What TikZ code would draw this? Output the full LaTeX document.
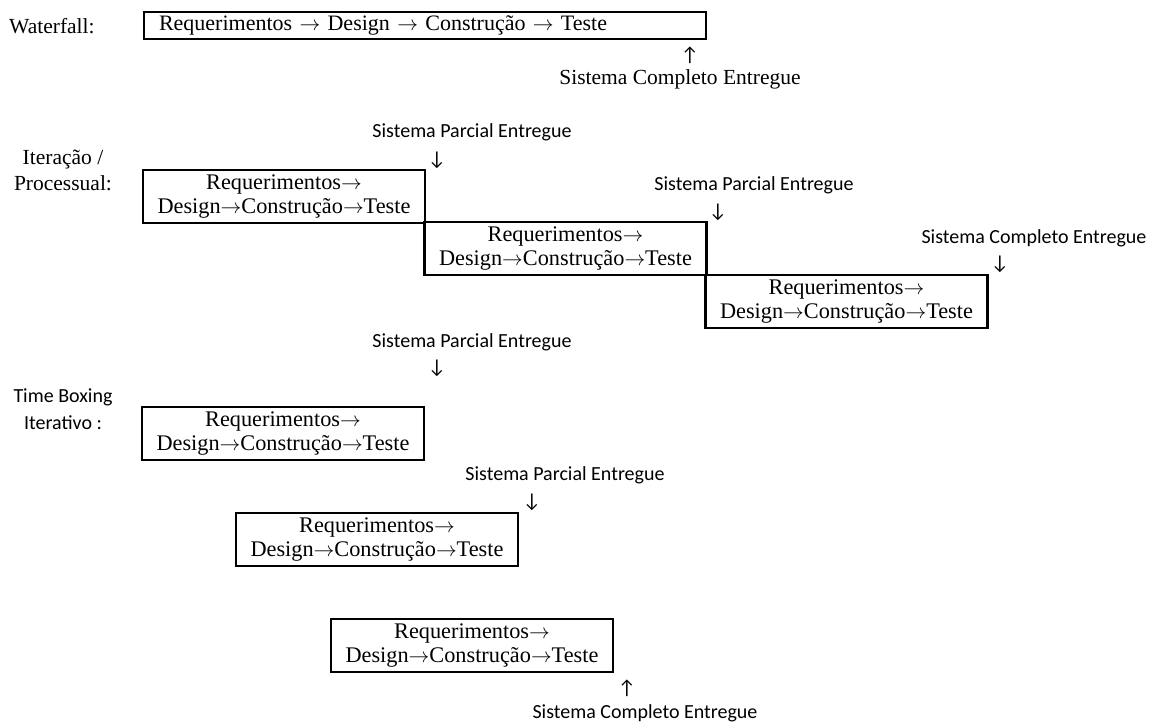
\documentclass[tikz,border=0pt]{standalone}
\usepackage{fontspec}
\setmainfont{Liberation Serif}
\newfontfamily\calfont{Carlito}
\newcommand\myarr{\ensuremath{\rightarrow}}
\begin{document}
\begin{tikzpicture}[x=1pt,y=-1pt,
  stage/.style={draw, line width=2.5pt, minimum width=282pt, minimum height=53pt, inner sep=0pt, align=center, font=\fontsize{22.3}{24.5}\selectfont},
  seriftxt/.style={font=\fontsize{21.5}{26}\selectfont, align=center, inner sep=0pt},
  caltxt/.style={font=\calfont\fontsize{20}{27}\selectfont, align=center, inner sep=0pt},
  glyph/.style={font=\calfont\fontsize{20}{24}\selectfont, inner sep=0pt}]
\useasboundingbox (0,0) rectangle (1154,723);

% Waterfall
\node[seriftxt, anchor=west] (wfl) at (9,26) {Waterfall:};
\node[draw, line width=2.5pt, minimum width=562pt, minimum height=27pt, inner xsep=15pt, inner ysep=0pt,
      text width=532pt, align=left, font=\fontsize{22}{24}\selectfont] (wf) at (425,25.5)
  {Requerimentos \myarr{} Design \myarr{} Construção \myarr{} Teste};
\node[glyph] (wfa) at (690,55) {↑};
\node[seriftxt] (wfs) at (680,79) {Sistema Completo Entregue};

% Iteracao / Processual
\node[seriftxt] (itl) at (63,170) {Iteração /\\Processual:};
\node[stage] (i1) at (284,196.5) {Requerimentos\myarr\\Design\myarr Construção\myarr Teste};
\node[stage] (i2) at (565.5,248.5) {Requerimentos\myarr\\Design\myarr Construção\myarr Teste};
\node[stage] (i3) at (846.5,301.5) {Requerimentos\myarr\\Design\myarr Construção\myarr Teste};
\node[caltxt] (i1s) at (472,132) {Sistema Parcial Entregue};
\node[glyph] (i1a) at (437,160) {↓};
\node[caltxt] (i2s) at (754,185) {Sistema Parcial Entregue};
\node[glyph] (i2a) at (718,212) {↓};
\node[caltxt] (i3s) at (1034,238) {Sistema Completo Entregue};
\node[glyph] (i3a) at (1000,264) {↓};

% Time Boxing Iterativo
\node[caltxt] (tbl) at (63,409) {Time Boxing\\Iterativo :};
\node[stage] (t1) at (283,433.5) {Requerimentos\myarr\\Design\myarr Construção\myarr Teste};
\node[stage] (t2) at (377,539.5) {Requerimentos\myarr\\Design\myarr Construção\myarr Teste};
\node[stage] (t3) at (472,645.5) {Requerimentos\myarr\\Design\myarr Construção\myarr Teste};
\node[caltxt] (t1s) at (472,342) {Sistema Parcial Entregue};
\node[glyph] (t1a) at (437,368) {↓};
\node[caltxt] (t2s) at (565,475) {Sistema Parcial Entregue};
\node[glyph] (t2a) at (532,502) {↓};
\node[glyph] (t3a) at (627,688) {↑};
\node[caltxt] (t3s) at (645,713) {Sistema Completo Entregue};
\end{tikzpicture}
\end{document}
